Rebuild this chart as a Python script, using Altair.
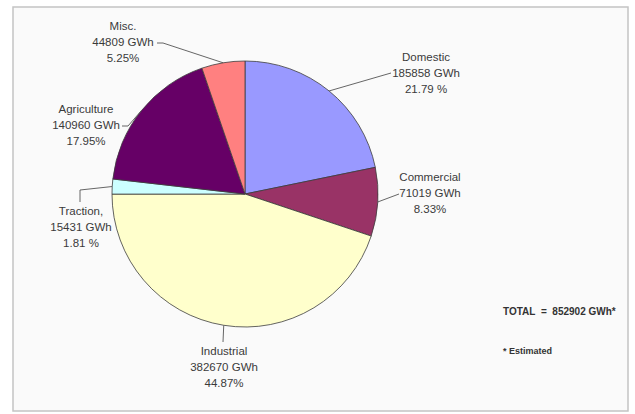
import math
import altair as alt
import pandas as pd

# ---------------- data ----------------
categories = ["Domestic", "Commercial", "Industrial", "Traction", "Agriculture", "Misc."]
label_titles = ["Domestic", "Commercial", "Industrial", "Traction,", "Agriculture", "Misc."]
energy_gwh = [185858, 71019, 382670, 15431, 140960, 44809]
share_pct = [21.79, 8.33, 44.87, 1.81, 17.95, 5.25]
share_text = ["21.79 %", "8.33%", "44.87%", "1.81 %", "17.95%", "5.25%"]
total_gwh = 852902

# ---------------- styling / layout ----------------
colors = ["#9999FF", "#993366", "#FFFFCC", "#CCFFFF", "#660066", "#FF8080"]
W, H = 615, 404                 # plot area (the framed panel)
CX, CY, R = 232, 187, 133       # pie centre and radius inside the panel
FONT = "Liberation Sans"
TEXT_COLOR = "#3a3a3a"

# centre of the first line of each label block (px inside the panel)
label_anchor = {
    "Domestic": (413, 51),
    "Commercial": (417, 171),
    "Industrial": (211, 345),
    "Traction": (68, 205),
    "Agriculture": (73, 103),
    "Misc.": (110, 20),
}
# leader-line points from the pie edge towards the label
leader_tail = {
    "Domestic": [(378, 66)],
    "Commercial": [(386, 187)],
    "Industrial": [(210, 335)],
    "Traction": [(67, 183), (67, 195)],
    "Agriculture": [(115, 119), (109, 119)],
    "Misc.": [(150, 36), (144, 36)],
}

# ---------------- tables ----------------
slices = pd.DataFrame({
    "category": categories,
    "share": share_pct,
    "idx": list(range(len(categories))),
})

labels = pd.DataFrame({
    "category": categories,
    "text": [f"{t}\n{v} GWh\n{p}" for t, v, p in zip(label_titles, energy_gwh, share_text)],
    "lx": [label_anchor[c][0] for c in categories],
    "ly": [label_anchor[c][1] for c in categories],
})

rows = []
total_share = sum(share_pct)
cum = 0.0
for c, s in zip(categories, share_pct):
    mid = (cum + s / 2) / total_share * 2 * math.pi
    cum += s
    pts = [(CX + R * math.sin(mid), CY - R * math.cos(mid))] + leader_tail[c]
    for k, (px, py) in enumerate(pts):
        rows.append({"category": c, "seq": k, "px": px, "py": py})
leaders = pd.DataFrame(rows)

notes = pd.DataFrame({
    "text": ["TOTAL\u00a0\u00a0=\u00a0\u00a0" + str(total_gwh) + " GWh*", "* Estimated"],
    "nx": [490, 490],
    "ny": [305, 344],
    "size": [10, 9],
})

# ---------------- chart ----------------
pie = alt.Chart(slices).mark_arc(
    outerRadius=R, stroke="#3c3c3c", strokeWidth=0.8
).encode(
    theta=alt.Theta("share:Q", stack=True),
    color=alt.Color("category:N", scale=alt.Scale(domain=categories, range=colors), legend=None),
    order=alt.Order("idx:Q"),
    x=alt.value(CX),
    y=alt.value(CY),
)

leader_lines = alt.Chart(leaders).mark_line(color="#555555", strokeWidth=0.9).encode(
    x=alt.X("px:Q", scale=None, axis=None),
    y=alt.Y("py:Q", scale=None, axis=None),
    detail="category:N",
    order="seq:Q",
)

label_text = alt.Chart(labels).mark_text(
    font=FONT, fontSize=11.5, color=TEXT_COLOR, align="center", baseline="middle",
    lineBreak="\n", lineHeight=16,
).encode(
    x=alt.X("lx:Q", scale=None, axis=None),
    y=alt.Y("ly:Q", scale=None, axis=None),
    text="text:N",
)

note_text = alt.Chart(notes).mark_text(
    font=FONT, fontWeight="bold", color="#333333", align="left", baseline="middle",
).encode(
    x=alt.X("nx:Q", scale=None, axis=None),
    y=alt.Y("ny:Q", scale=None, axis=None),
    text="text:N",
    size=alt.Size("size:Q", scale=None, legend=None),
)

chart = alt.layer(pie, leader_lines, label_text, note_text).properties(
    width=W,
    height=H,
    autosize=alt.AutoSizeParams(type="none"),
    padding={"left": 13, "top": 7, "right": 7, "bottom": 3},
    background="white",
).configure_view(
    fill="#fafafa", stroke="#c4c4c4", strokeWidth=1.5
)

chart.save("out.html", embed_options={"renderer": "svg", "actions": False})
